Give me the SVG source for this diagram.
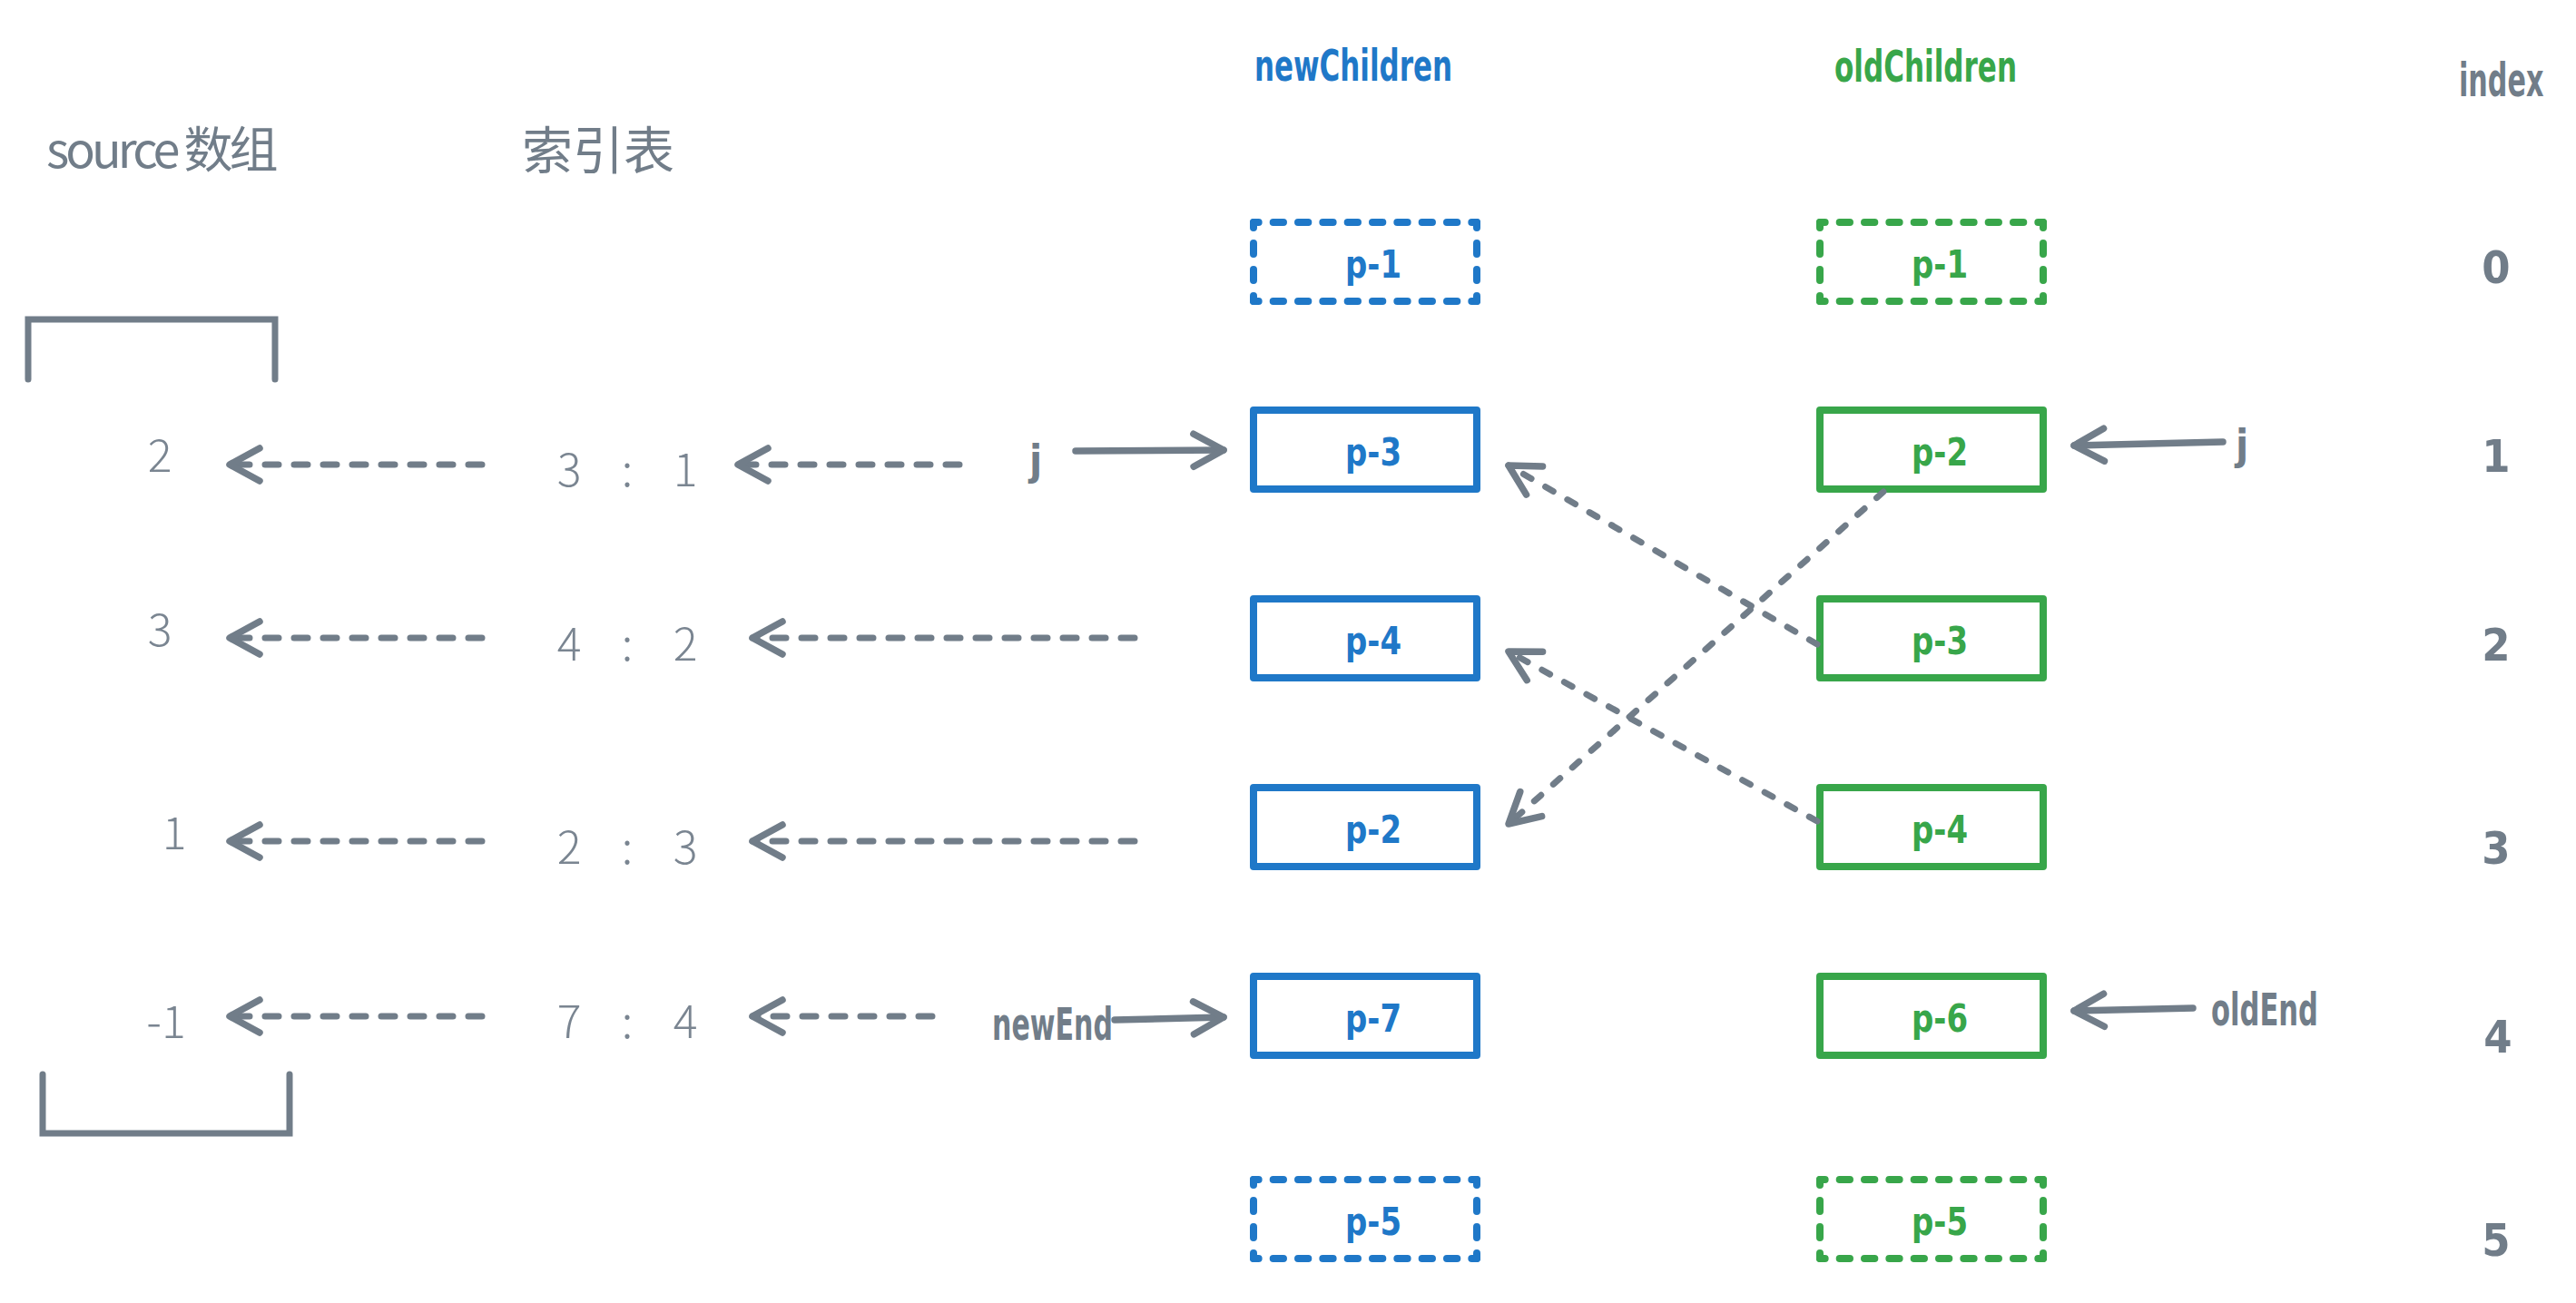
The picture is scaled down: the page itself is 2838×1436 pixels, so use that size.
<svg xmlns="http://www.w3.org/2000/svg" width="2838" height="1436" viewBox="0 0 2838 1436">
<defs>
<style>
.box{fill:none;stroke-width:8;stroke-linejoin:round}
.blue{stroke:#1f78c8}
.green{stroke:#38a64a}
.dh{stroke-width:8;stroke-linecap:round;stroke-dasharray:11.3 16.03;stroke-dashoffset:5.65}
.dv{stroke-width:8;stroke-linecap:round;stroke-dasharray:12 17;stroke-dashoffset:6}
.hand{font-family:"DejaVu Sans Condensed","DejaVu Sans",sans-serif;font-weight:bold}
.lbl{font-size:42px;text-anchor:middle}
.tb{fill:#1f78c8}
.tg{fill:#38a64a}
.tgray{fill:#717d89}
.cjk{font-family:"Noto Sans CJK SC","Noto Sans",sans-serif;fill:#717d89}
.num{font-family:"Noto Sans CJK SC","Noto Sans",sans-serif;fill:#7a8591;font-size:50px;font-weight:300;text-anchor:middle}
.idx{font-size:50px;text-anchor:middle}
.conn{fill:none;stroke:#717d89;stroke-width:7;stroke-linecap:round}
.solid{stroke-width:7.5}
.hd{stroke-dasharray:15 17}
.dd{stroke-dasharray:10 18}
.brk{fill:none;stroke:#717d89;stroke-width:7;stroke-linecap:round;stroke-linejoin:miter}
</style>
<marker id="arr" markerUnits="userSpaceOnUse" viewBox="-45 -30 60 60" markerWidth="60" markerHeight="60" refX="0" refY="0" orient="auto" overflow="visible">
<path d="M-33,-18 L0,0 L-33,18" fill="none" stroke="#717d89" stroke-width="7.5" stroke-linecap="round" stroke-linejoin="round"/>
</marker>
</defs>
<rect x="0" y="0" width="2838" height="1436" fill="#ffffff"/>

<!-- headers -->
<g id="title-source"><text class="cjk" x="51" y="185" font-size="54" letter-spacing="-4">source 数组</text></g>
<g id="title-index-table"><text class="cjk" x="575" y="186" font-size="56">索引表</text></g>
<g id="title-newChildren"><text class="hand tb" x="1382" y="89" font-size="48" textLength="218" lengthAdjust="spacingAndGlyphs">newChildren</text></g>
<g id="title-oldChildren"><text class="hand tg" x="2021" y="90" font-size="48" textLength="201" lengthAdjust="spacingAndGlyphs">oldChildren</text></g>
<g id="title-index"><text class="hand tgray" transform="translate(2709,106) scale(0.645,1)" font-size="52">index</text></g>

<!-- source array brackets -->
<g id="source-bracket-top"><path class="brk" d="M31,418 V352 H303 V418"/></g>
<g id="source-bracket-bottom"><path class="brk" d="M47,1184 V1249 H319 V1184"/></g>

<!-- source array values -->
<g id="source-0"><text class="num" x="176" y="520">2</text></g>
<g id="source-1"><text class="num" x="176" y="712">3</text></g>
<g id="source-2"><text class="num" x="192" y="936">1</text></g>
<g id="source-3"><text class="num" x="183" y="1144">-1</text></g>

<!-- index table entries -->
<g id="map-0"><text class="num" x="627 659 691 723 755" y="536">3 : 1</text></g>
<g id="map-1"><text class="num" x="627 659 691 723 755" y="728">4 : 2</text></g>
<g id="map-2"><text class="num" x="627 659 691 723 755" y="952">2 : 3</text></g>
<g id="map-3"><text class="num" x="627 659 691 723 755" y="1144">7 : 4</text></g>

<!-- pointer labels -->
<g id="ptr-j-new"><text class="hand tgray" x="1141" y="523" font-size="46" text-anchor="middle">j</text></g>
<g id="ptr-newEnd"><text class="hand tgray" x="1093" y="1146" font-size="50" textLength="133" lengthAdjust="spacingAndGlyphs">newEnd</text></g>
<g id="ptr-j-old"><text class="hand tgray" x="2470" y="506" font-size="46" text-anchor="middle">j</text></g>
<g id="ptr-oldEnd"><text class="hand tgray" x="2436" y="1130" font-size="50" textLength="118" lengthAdjust="spacingAndGlyphs">oldEnd</text></g>

<!-- newChildren nodes -->
<g id="new-p1">
<line class="dh blue" x1="1381" y1="245" x2="1627" y2="245"/>
<line class="dh blue" x1="1381" y1="332" x2="1627" y2="332"/>
<line class="dv blue" x1="1381" y1="245" x2="1381" y2="332"/>
<line class="dv blue" x1="1627" y1="245" x2="1627" y2="332"/>
<text class="hand lbl tb" x="1513" y="306" textLength="62" lengthAdjust="spacingAndGlyphs">p-1</text>
</g>
<g id="new-p3">
<rect class="box blue" x="1381" y="452" width="246" height="87"/>
<text class="hand lbl tb" x="1513" y="513" textLength="62" lengthAdjust="spacingAndGlyphs">p-3</text>
</g>
<g id="new-p4">
<rect class="box blue" x="1381" y="660" width="246" height="87"/>
<text class="hand lbl tb" x="1513" y="721" textLength="62" lengthAdjust="spacingAndGlyphs">p-4</text>
</g>
<g id="new-p2">
<rect class="box blue" x="1381" y="868" width="246" height="87"/>
<text class="hand lbl tb" x="1513" y="929" textLength="62" lengthAdjust="spacingAndGlyphs">p-2</text>
</g>
<g id="new-p7">
<rect class="box blue" x="1381" y="1076" width="246" height="87"/>
<text class="hand lbl tb" x="1513" y="1137" textLength="62" lengthAdjust="spacingAndGlyphs">p-7</text>
</g>
<g id="new-p5">
<line class="dh blue" x1="1381" y1="1300" x2="1627" y2="1300"/>
<line class="dh blue" x1="1381" y1="1387" x2="1627" y2="1387"/>
<line class="dv blue" x1="1381" y1="1300" x2="1381" y2="1387"/>
<line class="dv blue" x1="1627" y1="1300" x2="1627" y2="1387"/>
<text class="hand lbl tb" x="1513" y="1361" textLength="62" lengthAdjust="spacingAndGlyphs">p-5</text>
</g>

<!-- oldChildren nodes -->
<g id="old-p1">
<line class="dh green" x1="2005" y1="245" x2="2251" y2="245"/>
<line class="dh green" x1="2005" y1="332" x2="2251" y2="332"/>
<line class="dv green" x1="2005" y1="245" x2="2005" y2="332"/>
<line class="dv green" x1="2251" y1="245" x2="2251" y2="332"/>
<text class="hand lbl tg" x="2137" y="306" textLength="62" lengthAdjust="spacingAndGlyphs">p-1</text>
</g>
<g id="old-p2">
<rect class="box green" x="2005" y="452" width="246" height="87"/>
<text class="hand lbl tg" x="2137" y="513" textLength="62" lengthAdjust="spacingAndGlyphs">p-2</text>
</g>
<g id="old-p3">
<rect class="box green" x="2005" y="660" width="246" height="87"/>
<text class="hand lbl tg" x="2137" y="721" textLength="62" lengthAdjust="spacingAndGlyphs">p-3</text>
</g>
<g id="old-p4">
<rect class="box green" x="2005" y="868" width="246" height="87"/>
<text class="hand lbl tg" x="2137" y="929" textLength="62" lengthAdjust="spacingAndGlyphs">p-4</text>
</g>
<g id="old-p6">
<rect class="box green" x="2005" y="1076" width="246" height="87"/>
<text class="hand lbl tg" x="2137" y="1137" textLength="62" lengthAdjust="spacingAndGlyphs">p-6</text>
</g>
<g id="old-p5">
<line class="dh green" x1="2005" y1="1300" x2="2251" y2="1300"/>
<line class="dh green" x1="2005" y1="1387" x2="2251" y2="1387"/>
<line class="dv green" x1="2005" y1="1300" x2="2005" y2="1387"/>
<line class="dv green" x1="2251" y1="1300" x2="2251" y2="1387"/>
<text class="hand lbl tg" x="2137" y="1361" textLength="62" lengthAdjust="spacingAndGlyphs">p-5</text>
</g>

<!-- index column -->
<g id="index-0"><text class="hand idx tgray" x="2750" y="312">0</text></g>
<g id="index-1"><text class="hand idx tgray" x="2750" y="520">1</text></g>
<g id="index-2"><text class="hand idx tgray" x="2750" y="728">2</text></g>
<g id="index-3"><text class="hand idx tgray" x="2750" y="952">3</text></g>
<g id="index-4"><text class="hand idx tgray" x="2752" y="1160">4</text></g>
<g id="index-5"><text class="hand idx tgray" x="2750" y="1384">5</text></g>

<!-- connectors -->
<g id="connectors">
<path class="conn hd" d="M531,512 H253" marker-end="url(#arr)"/>
<path class="conn hd" d="M531,703 H253" marker-end="url(#arr)"/>
<path class="conn hd" d="M531,927 H253" marker-end="url(#arr)"/>
<path class="conn hd" d="M531,1120 H253" marker-end="url(#arr)"/>
<path class="conn hd" d="M1057,512 H813" marker-end="url(#arr)"/>
<path class="conn hd" d="M1250,703 H829" marker-end="url(#arr)"/>
<path class="conn hd" d="M1250,927 H829" marker-end="url(#arr)"/>
<path class="conn hd" d="M1027,1120 H829" marker-end="url(#arr)"/>
<path class="conn solid" d="M1185,497 L1348,496" marker-end="url(#arr)"/>
<path class="conn solid" d="M1228,1124 L1348,1121" marker-end="url(#arr)"/>
<path class="conn solid" d="M2449,487 L2285,491" marker-end="url(#arr)"/>
<path class="conn solid" d="M2416,1111 L2285,1114" marker-end="url(#arr)"/>
<path class="conn dd" d="M2002,710 L1662,513" marker-end="url(#arr)"/>
<path class="conn dd" d="M2002,905 L1662,718" marker-end="url(#arr)"/>
<path class="conn dd" d="M2075,542 L1662,908" marker-end="url(#arr)"/>
</g>
</svg>
